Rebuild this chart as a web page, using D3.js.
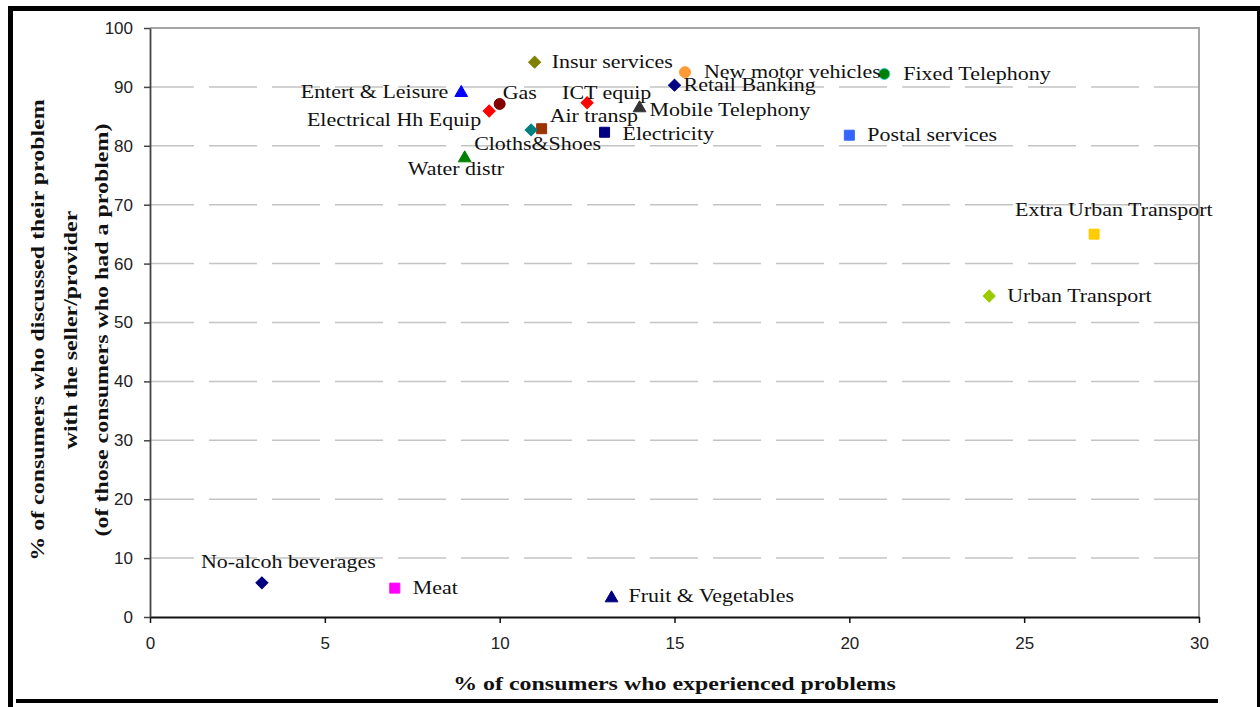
<!DOCTYPE html>
<html>
<head>
<meta charset="utf-8">
<script src="https://cdn.jsdelivr.net/npm/d3@7/dist/d3.min.js"></script>
<style>
  body { margin: 0; background: #fff; }
  svg { display: block; }
</style>
</head>
<body>
<svg id="chart"></svg>
<script>
// ---- data ----
const categories = [
  'Insur services', 'New motor vehicles', 'Fixed Telephony', 'Retail Banking',
  'Entert & Leisure', 'Gas', 'Electrical Hh Equip', 'ICT equip',
  'Mobile Telephony', 'Air transp', 'Cloths&Shoes', 'Electricity',
  'Postal services', 'Water distr', 'Extra Urban Transport', 'Urban Transport',
  'No-alcoh beverages', 'Meat', 'Fruit & Vegetables'
];
const experiencedProblems = [11.0, 15.3, 21.0, 15.0, 8.9, 10.0, 9.7, 12.5, 14.0, 11.2, 10.9, 13.0, 20.0, 9.0, 27.0, 24.0, 3.2, 7.0, 13.2];
const discussedWithSeller = [94.2, 92.5, 92.2, 90.3, 89.0, 87.1, 85.9, 87.3, 86.4, 82.9, 82.7, 82.3, 81.8, 77.9, 65.0, 54.5, 5.8, 4.9, 3.2];
const xTickValues = [0, 5, 10, 15, 20, 25, 30];
const yTickValues = [0, 10, 20, 30, 40, 50, 60, 70, 80, 90, 100];

// ---- styling per category (shape, fill, stroke) ----
const markerStyle = {
  'Insur services':        ['diamond',  '#808000', '#808000'],
  'New motor vehicles':    ['circle',   '#FF9933', '#FF9933'],
  'Fixed Telephony':       ['circle',   '#008000', '#33CCCC'],
  'Retail Banking':        ['diamond',  '#000080', '#000080'],
  'Entert & Leisure':      ['triangle', '#0000FF', '#0000FF'],
  'Gas':                   ['circle',   '#800000', '#800000'],
  'Electrical Hh Equip':   ['diamond',  '#FF0000', '#FF0000'],
  'ICT equip':             ['diamond',  '#FF0000', '#FF0000'],
  'Mobile Telephony':      ['triangle', '#333333', '#333333'],
  'Air transp':            ['square',   '#993300', '#993300'],
  'Cloths&Shoes':          ['diamond',  '#008080', '#008080'],
  'Electricity':           ['square',   '#000080', '#000080'],
  'Postal services':       ['square',   '#3366FF', '#3366FF'],
  'Water distr':           ['triangle', '#008000', '#008000'],
  'Extra Urban Transport': ['square',   '#FFCC00', '#FFCC00'],
  'Urban Transport':       ['diamond',  '#99CC00', '#99CC00'],
  'No-alcoh beverages':    ['diamond',  '#000080', '#000080'],
  'Meat':                  ['square',   '#FF00FF', '#FF00FF'],
  'Fruit & Vegetables':    ['triangle', '#000080', '#000080']
};

// label offset from the marker: dx, dy (to text middle), anchor
const labelPlace = {
  'Insur services':        [17, 0, 'start'],
  'New motor vehicles':    [19, 0, 'start'],
  'Fixed Telephony':       [19, 0, 'start'],
  'Retail Banking':        [9, 0, 'start'],
  'Entert & Leisure':      [-13, -1, 'end'],
  'Gas':                   [3, -11, 'start'],
  'Electrical Hh Equip':   [-8, 9, 'end'],
  'ICT equip':             [-25, -10, 'start'],
  'Mobile Telephony':      [10, 2, 'start'],
  'Air transp':            [8, -13, 'start'],
  'Cloths&Shoes':          [-57, 14, 'start'],
  'Electricity':           [18, 1, 'start'],
  'Postal services':       [18, 0, 'start'],
  'Water distr':           [-57, 11, 'start'],
  'Extra Urban Transport': [-79, -24, 'start'],
  'Urban Transport':       [18, 0, 'start'],
  'No-alcoh beverages':    [-61, -21, 'start'],
  'Meat':                  [18, 0, 'start'],
  'Fruit & Vegetables':    [17, -2, 'start']
};

const W = 1260, H = 707;
const plot = { left: 150, right: 1199, top: 28, bottom: 617 };
const labelFont = 'Liberation Serif, Times New Roman, serif';
const tickFont = 'Liberation Sans, Arial, sans-serif';
const labelStretch = 1.22;
const titleStretch = 1.33;

const svg = d3.select('#chart').attr('width', W).attr('height', H);

// outer frame
svg.append('rect').attr('x', 8).attr('y', 6).attr('width', 5).attr('height', H - 6).attr('fill', '#000');
svg.append('rect').attr('x', 8).attr('y', 6).attr('width', W - 8).attr('height', 5).attr('fill', '#000');
svg.append('rect').attr('x', W - 3).attr('y', 6).attr('width', 3).attr('height', H - 6).attr('fill', '#000');
svg.append('rect').attr('x', 16).attr('y', 699).attr('width', 1202).attr('height', 4).attr('fill', '#000');

const x = d3.scaleLinear().domain([0, 30]).range([plot.left, plot.right]);
const y = d3.scaleLinear().domain([0, 100]).range([plot.bottom, plot.top]);

// gridlines
svg.append('g')
  .selectAll('line')
  .data(yTickValues.filter(v => v > 0 && v < 100))
  .join('line')
  .attr('x1', plot.left).attr('x2', plot.right)
  .attr('y1', d => y(d)).attr('y2', d => y(d))
  .attr('stroke', '#c4c4c4')
  .attr('stroke-width', 1.5)
  .attr('stroke-dasharray', '48,15')
  .attr('stroke-dashoffset', 4);

// plot border (top and right)
svg.append('path')
  .attr('d', `M${plot.left},${y(100)}H${plot.right}V${plot.bottom}`)
  .attr('fill', 'none')
  .attr('stroke', '#a6a6a6')
  .attr('stroke-width', 2);

// axes
const xAxis = svg.append('g')
  .attr('transform', `translate(0,${plot.bottom})`)
  .call(d3.axisBottom(x).tickValues(xTickValues).tickSize(6).tickSizeOuter(0).tickPadding(14));
const yAxis = svg.append('g')
  .attr('transform', `translate(${plot.left},0)`)
  .call(d3.axisLeft(y).tickValues(yTickValues).tickSize(6).tickSizeOuter(0).tickPadding(11));

xAxis.select('.domain').attr('stroke', '#111').attr('stroke-width', 1.8);
yAxis.select('.domain').attr('stroke', '#444').attr('stroke-width', 1.8);
xAxis.selectAll('.tick line').attr('stroke', '#111').attr('stroke-width', 1.5);
yAxis.selectAll('.tick line').attr('stroke', '#444').attr('stroke-width', 1.5);
svg.selectAll('.tick text')
  .attr('font-family', tickFont)
  .attr('font-size', 17)
  .attr('fill', '#222');

// markers
const symbolFor = { square: d3.symbolSquare, diamond: d3.symbolSquare, circle: d3.symbolCircle, triangle: d3.symbolTriangle };
const sizeFor = { square: 100, diamond: 72, circle: 95, triangle: 70 };

const points = categories.map((name, i) => ({ name, px: experiencedProblems[i], py: discussedWithSeller[i] }));

svg.append('g')
  .selectAll('path')
  .data(points)
  .join('path')
  .attr('d', d => d3.symbol(symbolFor[markerStyle[d.name][0]], sizeFor[markerStyle[d.name][0]])())
  .attr('transform', d => {
    const rot = markerStyle[d.name][0] === 'diamond' ? ' rotate(45)' : '';
    return `translate(${x(d.px)},${y(d.py)})${rot}`;
  })
  .attr('fill', d => markerStyle[d.name][1])
  .attr('stroke', d => markerStyle[d.name][2])
  .attr('stroke-width', 1);

// point labels
svg.append('g')
  .selectAll('g')
  .data(points)
  .join('g')
  .attr('transform', d => {
    const p = labelPlace[d.name];
    return `translate(${x(d.px) + p[0]},${y(d.py) + p[1]}) scale(${labelStretch},1)`;
  })
  .append('text')
  .attr('text-anchor', d => labelPlace[d.name][2])
  .attr('dominant-baseline', 'central')
  .attr('font-family', labelFont)
  .attr('font-size', 18)
  .attr('fill', '#111')
  .text(d => d.name);

// axis titles
svg.append('g')
  .attr('transform', `translate(${(plot.left + plot.right) / 2},690) scale(${titleStretch},1)`)
  .append('text')
  .attr('text-anchor', 'middle')
  .attr('font-family', labelFont)
  .attr('font-weight', 'bold')
  .attr('font-size', 18)
  .attr('fill', '#111')
  .text('% of consumers who experienced problems');

const yTitleLines = [
  '% of consumers who discussed their problem',
  'with the seller/provider',
  '(of those consumers who had a problem)'
];
const yTitleX = [38, 71, 102];
svg.append('g')
  .selectAll('g')
  .data(yTitleLines)
  .join('g')
  .attr('transform', (d, i) => `translate(${yTitleX[i]},330) rotate(-90) scale(${titleStretch},1)`)
  .append('text')
  .attr('text-anchor', 'middle')
  .attr('dominant-baseline', 'central')
  .attr('font-family', labelFont)
  .attr('font-weight', 'bold')
  .attr('font-size', 18)
  .attr('fill', '#111')
  .text(d => d);
</script>
</body>
</html>
